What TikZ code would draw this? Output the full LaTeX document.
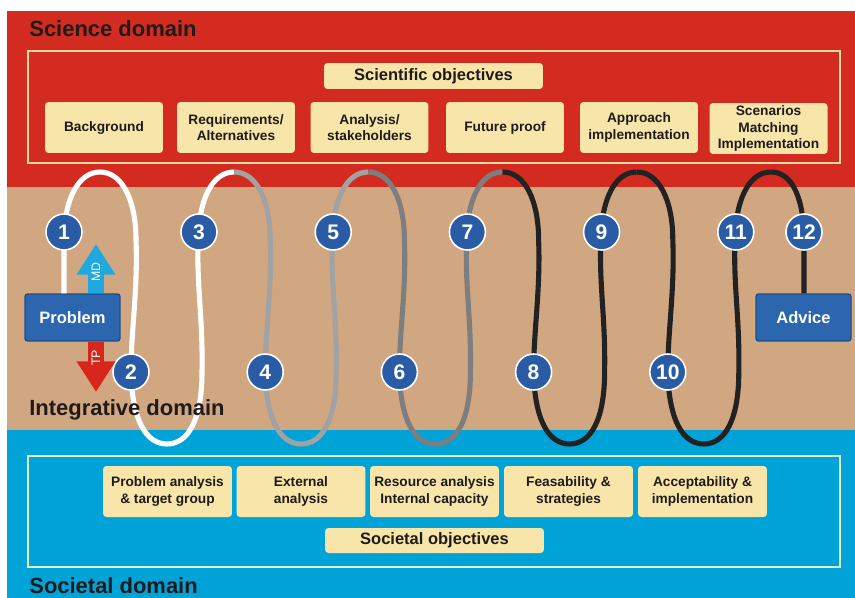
\documentclass[tikz,border=0pt]{standalone}
\usepackage{fontspec}
\setmainfont{Liberation Sans}
\usetikzlibrary{arrows.meta}
\definecolor{scired}{HTML}{D42B21}
\definecolor{integtan}{HTML}{D1A782}
\definecolor{socblue}{HTML}{00A3D8}
\definecolor{boxcream}{HTML}{F7E5AA}
\definecolor{framecream}{HTML}{F5D9A2}
\definecolor{framepale}{HTML}{DDF0C8}
\definecolor{stepblue}{HTML}{2A5CA5}
\definecolor{probblue}{HTML}{2C66AE}
\definecolor{probedge}{HTML}{1E4C8A}
\definecolor{mdcyan}{HTML}{1FA9DF}
\definecolor{tpred}{HTML}{D9261C}
\definecolor{darktext}{HTML}{1F1B1B}
\definecolor{loopgreyA}{HTML}{A2A2A2}
\definecolor{loopgreyB}{HTML}{7E7E7E}
\definecolor{loopdark}{HTML}{222222}
\begin{document}
\begin{tikzpicture}[x=0.02cm,y=-0.02cm,domainlabel/.style={anchor=base west,inner sep=0,text=darktext,font=\fontsize{12.5}{15}\selectfont\bfseries},objbox/.style={fill=boxcream,rounded corners=2pt,inner sep=0,align=center,text=darktext,font=\fontsize{7.8}{9.4}\selectfont\bfseries,minimum height=1.02cm},headbox/.style={objbox,font=\fontsize{9.4}{11}\selectfont\bfseries,minimum width=4.38cm,minimum height=0.52cm},stepnum/.style={circle,fill=stepblue,draw=white,line width=0.9pt,minimum size=0.72cm,inner sep=0,text=white,font=\fontsize{12}{12}\selectfont\bfseries},endbox/.style={fill=probblue,draw=probedge,line width=0.8pt,rounded corners=1.5pt,minimum width=1.9cm,minimum height=0.94cm,text=white,font=\fontsize{9.4}{11}\selectfont\bfseries},loopline/.style={line width=2.9pt},dirarrow/.style={line width=9pt,-{Triangle[width=21pt,length=17.5pt]}},dirlabel/.style={rotate=90,inner sep=0,text=white,font=\fontsize{7}{7}\selectfont}]
\def\period{134.2};
\def\topW{2.36cm}
\def\botW{2.58cm}
\useasboundingbox (0,0) rectangle (855,598);

\fill[scired] (7,11) rectangle (855,187);
\fill[integtan] (7,187) rectangle (855,430);
\fill[socblue] (7,430) rectangle (855,598);
\draw[framecream,line width=1.2pt] (28,51) rectangle (840,163);
\draw[framepale,line width=1.2pt] (28,456) rectangle (840,567);

\node[domainlabel] (scilab) at (29,37) {Science domain};
\node[headbox] (sciobj) at (433.5,76) {Scientific objectives};
\node[objbox,minimum width=\topW] (bg) at (104,127.5) {Background};
\node[objbox,minimum width=\topW] (req) at (236,127.5) {Requirements/\\Alternatives};
\node[objbox,minimum width=\topW] (ana) at (369.5,127.5) {Analysis/\\stakeholders};
\node[objbox,minimum width=\topW] (fut) at (505,127.5) {Future proof};
\node[objbox,minimum width=\topW] (app) at (639,127.5) {Approach\\implementation};
\node[objbox,minimum width=\topW] (scen) at (768.5,128.5) {Scenarios\\Matching\\Implementation};

\node[objbox,minimum width=\botW] (pa) at (167.5,491.5) {Problem analysis\\\& target group};
\node[objbox,minimum width=\botW] (ext) at (301,491.5) {External\\analysis};
\node[objbox,minimum width=\botW] (res) at (434.5,491.5) {Resource analysis\\Internal capacity};
\node[objbox,minimum width=\botW] (feas) at (568.5,491.5) {Feasability \&\\strategies};
\node[objbox,minimum width=\botW] (acc) at (702.5,491.5) {Acceptability \&\\implementation};
\node[headbox,minimum height=0.5cm] (socobj) at (434.5,540.5) {Societal objectives};
\node[domainlabel] (soclab) at (29,593) {Societal domain};

\node[endbox] (prob) at (72.5,317.5) {Problem};
\node[endbox] (advice) at (803.5,317.5) {Advice};
\coordinate (startpt) at (64,0);
\coordinate (endpt) at (804,0);

\draw[loopline,white] (startpt |- prob.north) -- (64,240) .. controls (64,200) and (78,172) .. (100,172);
\foreach \k/\col in {0/white,1/loopgreyA,2/loopgreyB,3/loopdark,4/loopdark}{
  \pgfmathsetmacro{\o}{\k*\period}
  \draw[loopline,\col] (100+\o,172) .. controls (122+\o,172) and (136+\o,200) .. (136+\o,240)
    .. controls (138+\o,290) and (131+\o,330) .. (131+\o,372)
    .. controls (132+\o,420) and (146+\o,444) .. (167+\o,444)
    .. controls (188+\o,444) and (202+\o,420) .. (202+\o,372)
    .. controls (203+\o,320) and (197+\o,290) .. (198+\o,245)
    .. controls (198+\o,200) and (212+\o,172) .. (234+\o,172);
}
\draw[loopline,loopdark] (771,172) .. controls (793,172) and (804,200) .. (804,240) -- (endpt |- advice.north);

\node[stepnum] (c1) at (64,232) {1};
\foreach \k in {0,...,4}{
  \pgfmathsetmacro{\o}{\k*\period}
  \pgfmathtruncatemacro{\dn}{2*\k+2}
  \pgfmathtruncatemacro{\up}{2*\k+3}
  \node[stepnum] (c\dn) at (131+\o,372) {\dn};
  \node[stepnum] (c\up) at (199+\o,232) {\up};
}
\node[stepnum] (c12) at (804,232) {12};

\coordinate (mdtip) at (96,244);
\coordinate (tptip) at (96,392);
\draw[dirarrow,mdcyan] (mdtip |- prob.north) -- (mdtip);
\draw[dirarrow,tpred] (tptip |- prob.south) -- (tptip);
\node[dirlabel] (mdlab) at (96,272) {MD};
\node[dirlabel] (tplab) at (96,358) {TP};

\node[domainlabel] (intlab) at (29,415) {Integrative domain};
\end{tikzpicture}
\end{document}
